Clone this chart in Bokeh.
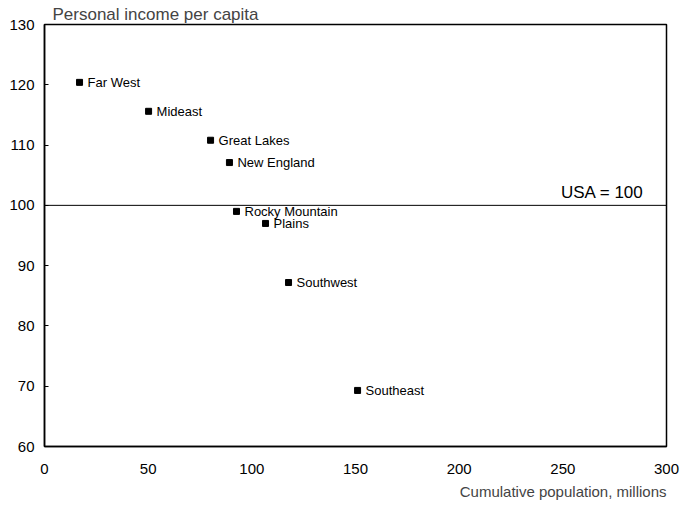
from bokeh.plotting import figure
from bokeh.models import ColumnDataSource, Span, Label, Title, FixedTicker, Range1d
from bokeh.core.properties import value
from bokeh.embed import file_html
from bokeh.resources import INLINE

regions = ["Far West", "Mideast", "Great Lakes", "New England",
           "Rocky Mountain", "Plains", "Southwest", "Southeast"]
cum_pop = [16.9, 50.2, 80.1, 89.2, 92.6, 106.6, 117.7, 151.0]
income = [120.4, 115.6, 110.8, 107.1, 99.0, 97.0, 87.2, 69.3]
x_ticks = [0, 50, 100, 150, 200, 250, 300]
y_ticks = [60, 70, 80, 90, 100, 110, 120, 130]
usa_level = 100

FONT = "Liberation Sans"

p = figure(width=682, height=506, output_backend="svg", toolbar_location=None,
           x_range=Range1d(0, 300), y_range=Range1d(60, 130),
           min_border_left=44, min_border_right=16, min_border_top=24,
           min_border_bottom=60)

p.title.text = "Personal income per capita"
p.title.text_font = FONT
p.title.text_font_size = "17px"
p.title.text_font_style = "normal"
p.title.align = "left"
p.title.offset = 8
p.title.standoff = 2

p.add_layout(Title(text="Cumulative population, millions", align="right",
                   text_font=FONT, text_font_size="15px", text_font_style="normal",
                   standoff=9), "below")

p.xgrid.visible = False
p.ygrid.visible = False
p.outline_line_color = "black"
p.outline_line_width = 1.5
p.background_fill_color = "white"
p.border_fill_color = "white"

p.xaxis.ticker = FixedTicker(ticks=x_ticks)
p.yaxis.ticker = FixedTicker(ticks=y_ticks)
for ax in (p.xaxis, p.yaxis):
    ax.axis_line_color = "black"
    ax.axis_line_width = 1.5
    ax.major_label_text_font = FONT
    ax.major_label_text_font_size = "15px"
    ax.major_label_text_color = "black"
    ax.minor_tick_line_color = None
p.xaxis.major_tick_in = 0
p.xaxis.major_tick_out = 0
p.xaxis.major_label_standoff = 17
p.yaxis.major_tick_in = 4
p.yaxis.major_tick_out = 0
p.yaxis.major_tick_line_color = "black"
p.yaxis.major_label_standoff = 10

p.add_layout(Span(location=usa_level, dimension="width", line_color="black", line_width=1))
p.add_layout(Label(x=289, y=usa_level, text="USA = 100", text_align="right",
                   text_baseline="bottom", y_offset=3, text_font=FONT,
                   text_font_size="17px", text_color="black"))

src = ColumnDataSource(dict(x=cum_pop, y=income, name=regions))
p.scatter("x", "y", source=src, marker="square", size=6, color="black")
p.text("x", "y", text="name", source=src, x_offset=8, text_baseline="middle",
       text_font=value(FONT), text_font_size="13px", text_color="black")

open("out.html", "w").write(file_html(p, INLINE))
